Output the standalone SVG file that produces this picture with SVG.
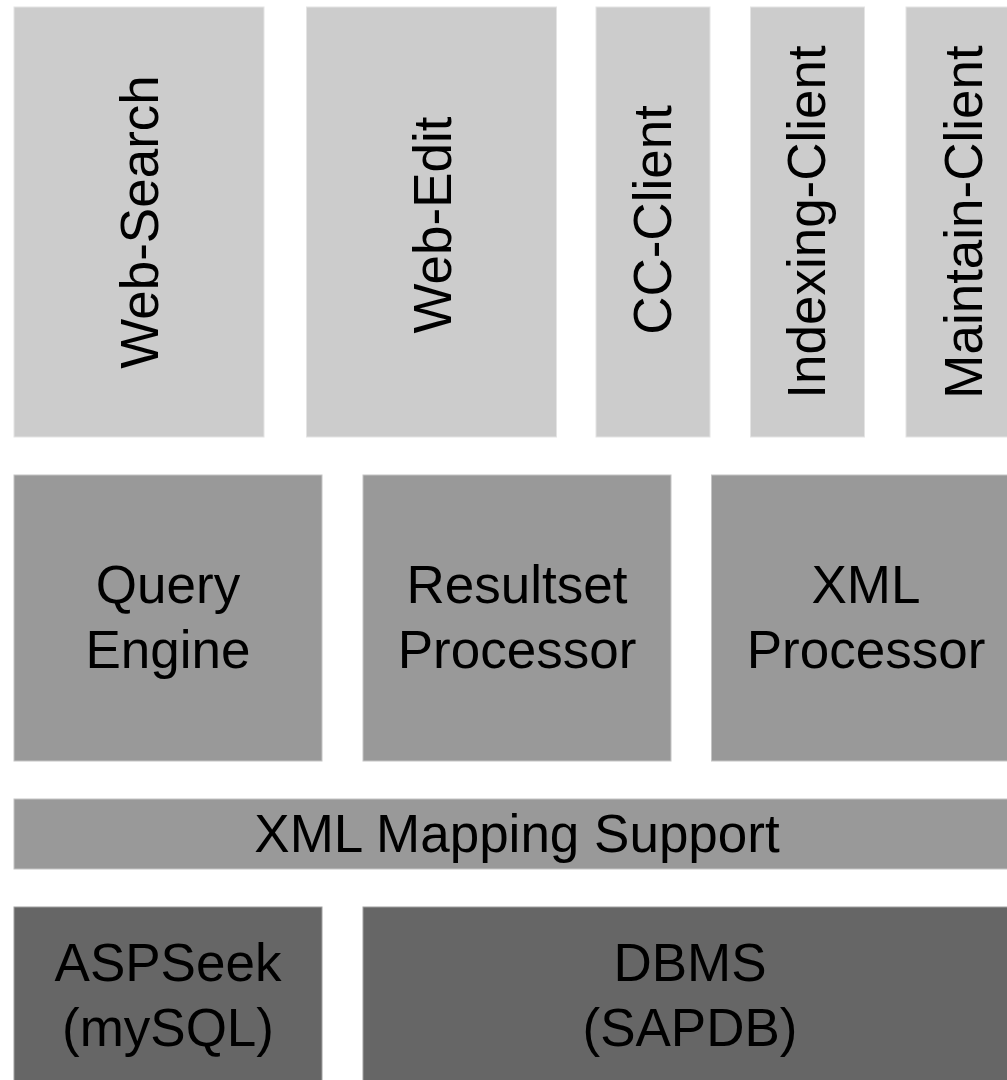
<svg xmlns="http://www.w3.org/2000/svg" width="1007" height="1080" viewBox="0 0 1007 1080">
<style>
.l1{fill:#cccccc;stroke:#e4e4e4;stroke-width:1}
.l2{fill:#999999;stroke:#c4c4c4;stroke-width:1}
.l3{fill:#666666;stroke:#a0a0a0;stroke-width:1}
text{font-family:"Liberation Sans",Arial,sans-serif;font-size:53px;fill:#000;text-anchor:middle}
</style>
<rect width="1007" height="1080" fill="#ffffff"/>
<g id="web-search"><rect class="l1" x="14" y="7" width="250" height="430"/><text transform="translate(158,222) rotate(-90)">Web-Search</text></g>
<g id="web-edit"><rect class="l1" x="306.5" y="7" width="250" height="430"/><text transform="translate(451,225) rotate(-90)">Web-Edit</text></g>
<g id="cc-client"><rect class="l1" x="596" y="7" width="114" height="430"/><text transform="translate(671,220) rotate(-90)">CC-Client</text></g>
<g id="indexing-client"><rect class="l1" x="750.5" y="7" width="114" height="430"/><text transform="translate(825,222) rotate(-90)">Indexing-Client</text></g>
<g id="maintain-client"><rect class="l1" x="906" y="7" width="114" height="430"/><text transform="translate(982,222) rotate(-90)">Maintain-Client</text></g>
<g id="query-engine"><rect class="l2" x="14" y="475" width="308" height="286"/><text x="168" y="603">Query</text><text x="168" y="668">Engine</text></g>
<g id="resultset-processor"><rect class="l2" x="363" y="475" width="308" height="286"/><text x="517" y="603">Resultset</text><text x="517" y="668">Processor</text></g>
<g id="xml-processor"><rect class="l2" x="711.5" y="475" width="310" height="286"/><text x="866" y="603">XML</text><text x="866" y="668">Processor</text></g>
<g id="xml-mapping-support"><rect class="l2" x="14" y="799" width="1007" height="70"/><text x="517" y="852">XML Mapping Support</text></g>
<g id="aspseek"><rect class="l3" x="14" y="907" width="308" height="180"/><text x="168" y="981">ASPSeek</text><text x="168" y="1046">(mySQL)</text></g>
<g id="dbms"><rect class="l3" x="363" y="907" width="660" height="180"/><text x="690" y="981">DBMS</text><text x="690" y="1046">(SAPDB)</text></g>
<g id="connectors"></g>
</svg>
